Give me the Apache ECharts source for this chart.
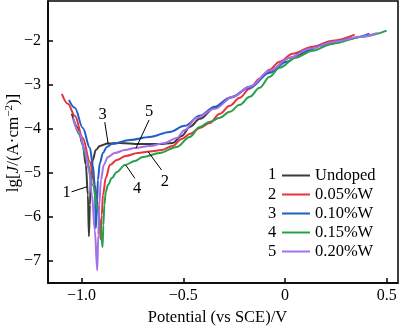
<!DOCTYPE html>
<html><head><meta charset="utf-8">
<script src="https://cdn.jsdelivr.net/npm/echarts@6/dist/echarts.min.js"></script>
<style>html,body{margin:0;padding:0;background:#fff}#c{width:400px;height:328px}</style>
</head><body><div id="c"></div>
<script>
// ---- data (E / V vs SCE, lg J) ----
const seriesNames = ['Undoped', '0.05%W', '0.10%W', '0.15%W', '0.20%W'];
const seriesNumbers = ['1', '2', '3', '4', '5'];
const seriesColors = ['#3a3a3a', '#e8323c', '#1c5fc8', '#27a04c', '#a56fe6'];

const undoped = [[-1.048,-3.661],[-1.018,-3.980],[-0.994,-4.367],[-0.979,-4.822],[-0.969,-5.505],[-0.964,-6.438],[-0.959,-5.732],[-0.954,-5.050],[-0.945,-4.708],[-0.930,-4.481],[-0.910,-4.389],[-0.871,-4.332],[-0.812,-4.321],[-0.714,-4.344],[-0.616,-4.344],[-0.552,-4.321],[-0.508,-4.162],[-0.468,-3.957],[-0.419,-3.775],[-0.346,-3.525],[-0.257,-3.274],[-0.174,-3.047],[-0.076,-2.706],[0.023,-2.387],[0.170,-2.114],[0.317,-1.932]];
const w005 = [[-1.097,-3.206],[-1.067,-3.434],[-1.033,-3.707],[-0.994,-4.208],[-0.959,-4.754],[-0.935,-5.277],[-0.920,-5.732],[-0.910,-6.188],[-0.907,-6.506],[-0.901,-5.960],[-0.895,-5.505],[-0.881,-5.118],[-0.861,-4.822],[-0.827,-4.708],[-0.783,-4.617],[-0.724,-4.549],[-0.665,-4.515],[-0.606,-4.481],[-0.552,-4.389],[-0.508,-4.230],[-0.468,-4.116],[-0.419,-3.980],[-0.370,-3.866],[-0.321,-3.661],[-0.272,-3.479],[-0.223,-3.297],[-0.174,-3.092],[-0.125,-2.865],[-0.076,-2.660],[-0.027,-2.478],[0.037,-2.296],[0.135,-2.137],[0.234,-2.000],[0.342,-1.863]];
const w010 = [[-1.062,-3.343],[-1.033,-3.525],[-0.994,-3.980],[-0.959,-4.435],[-0.945,-4.822],[-0.935,-5.277],[-0.930,-6.256],[-0.923,-5.619],[-0.920,-5.163],[-0.910,-4.776],[-0.895,-4.549],[-0.876,-4.412],[-0.851,-4.344],[-0.763,-4.253],[-0.665,-4.185],[-0.567,-4.071],[-0.493,-3.934],[-0.419,-3.707],[-0.346,-3.502],[-0.272,-3.297],[-0.174,-3.070],[-0.076,-2.728],[0.008,-2.478],[0.086,-2.250],[0.219,-2.057],[0.317,-1.954],[0.415,-1.841]];
const w015 = [[-1.038,-3.798],[-1.008,-4.139],[-0.974,-4.708],[-0.945,-5.277],[-0.920,-5.846],[-0.905,-6.301],[-0.897,-6.688],[-0.893,-6.188],[-0.888,-5.732],[-0.881,-5.436],[-0.871,-5.277],[-0.851,-5.118],[-0.827,-4.981],[-0.787,-4.822],[-0.738,-4.731],[-0.699,-4.640],[-0.616,-4.549],[-0.532,-4.412],[-0.468,-4.185],[-0.419,-3.957],[-0.370,-3.843],[-0.321,-3.752],[-0.272,-3.616],[-0.223,-3.457],[-0.174,-3.274],[-0.125,-3.070],[-0.076,-2.819],[-0.027,-2.614],[0.052,-2.387],[0.135,-2.228],[0.234,-2.068],[0.381,-1.909],[0.499,-1.772]];
const w020 = [[-1.043,-3.752],[-1.013,-4.071],[-0.984,-4.481],[-0.964,-4.936],[-0.949,-5.505],[-0.935,-6.301],[-0.923,-7.212],[-0.918,-6.415],[-0.913,-5.732],[-0.905,-5.163],[-0.891,-4.822],[-0.871,-4.640],[-0.837,-4.549],[-0.787,-4.481],[-0.738,-4.435],[-0.665,-4.389],[-0.591,-4.321],[-0.532,-4.208],[-0.493,-4.025],[-0.434,-3.752],[-0.346,-3.548],[-0.257,-3.274],[-0.174,-3.047],[-0.076,-2.683],[0.023,-2.387],[0.121,-2.182],[0.243,-2.023],[0.366,-1.909],[0.455,-1.825]];
const allSeries = [undoped, w005, w010, w015, w020];

const xTicks = [-1.0, -0.5, 0, 0.5];
const yTicks = [-7, -6, -5, -4, -3, -2];

// curve annotations: label, text position, leader start, leader end (data units)
const annotLabels = ['1', '2', '3', '4', '5'];
const annotText = [[-1.074,-5.459],[-0.591,-5.209],[-0.897,-3.684],[-0.727,-5.352],[-0.668,-3.609]];
const annotFrom = [[-1.049,-5.430],[-0.607,-4.936],[-0.886,-3.850],[-0.738,-5.125],[-0.668,-3.798]];
const annotTo   = [[-0.973,-5.316],[-0.673,-4.519],[-0.869,-4.351],[-0.783,-4.822],[-0.733,-4.442]];

const FONT = '"Liberation Serif","Times New Roman",serif';
const chart = echarts.init(document.getElementById('c'), null, {renderer: 'canvas'});
const fmtMinus = v => (v < 0 ? '\u2212' : '') + Math.abs(v);
const option = {
  animation: false,
  backgroundColor: '#fff',
  textStyle: {fontFamily: FONT, color: '#000'},
  grid: {left: 48, right: 2, top: 1, bottom: 45, show: true, borderColor: '#000', borderWidth: 1.5, outerBoundsMode: 'none'},
  xAxis: {
    type: 'value', min: -1.165, max: 0.555,
    axisLine: {onZero: false, lineStyle: {color: '#000', width: 1.5}},
    axisTick: {inside: true, length: 5, lineStyle: {color: '#000', width: 1.5}, customValues: xTicks},
    axisLabel: {customValues: xTicks, color: '#000', fontFamily: FONT, fontSize: 16, margin: 5,
      formatter: v => v === 0 ? '0' : (v < 0 ? '\u2212' : '') + Math.abs(v).toFixed(1)},
    splitLine: {show: false},
    name: 'Potential (vs SCE)/V', nameLocation: 'middle', nameGap: 26,
    nameTextStyle: {fontFamily: FONT, fontSize: 16.5, color: '#000', padding: [0, 11, 0, 0]}
  },
  yAxis: {
    type: 'value', min: -7.5, max: -1.1,
    axisLine: {onZero: false, lineStyle: {color: '#000', width: 1.5}},
    axisTick: {inside: true, length: 5, lineStyle: {color: '#000', width: 1.5}, customValues: yTicks},
    axisLabel: {customValues: yTicks, color: '#000', fontFamily: FONT, fontSize: 16, margin: 7, formatter: fmtMinus},
    splitLine: {show: false}
  },
  legend: {
    orient: 'vertical', left: 277, top: 162, itemWidth: 28, itemHeight: 2, itemGap: 2, icon: 'rect',
    textStyle: {fontFamily: FONT, fontSize: 16.5, color: '#000'},
    data: seriesNames
  },
  series: allSeries.map((d, i) => ({
    type: 'line', name: seriesNames[i], data: d, symbol: 'none',
    smooth: 0.35, smoothMonotone: 'x',
    lineStyle: {color: seriesColors[i], width: 2}, itemStyle: {color: seriesColors[i]},
    z: [2, 3, 4, 5, 6][i]
  }))
};
chart.setOption(option);

const g = [];
const legendRowY = [175, 194.3, 213.3, 232.7, 251.7];
seriesNumbers.forEach((n, i) => {
  g.push({type: 'text', x: 272, y: legendRowY[i], style: {text: n, font: '16.5px ' + FONT, fill: '#000', align: 'center', verticalAlign: 'middle'}});
});
// y-axis title (rotated, with italic J and superscript)
g.push({
  type: 'text', x: 14, y: 143, rotation: Math.PI / 2,
  style: {
    text: '{a|lg[}{i|J}{a|/(A\u00b7cm}{s|\u22122}{a|)]}',
    align: 'center', verticalAlign: 'middle',
    rich: {
      a: {font: '17px ' + FONT, fill: '#000', lineHeight: 20},
      i: {font: 'italic 17px ' + FONT, fill: '#000', lineHeight: 20},
      s: {font: '11px ' + FONT, fill: '#000', lineHeight: 20, padding: [0, 0, 9, 0]}
    }
  }
});
annotLabels.forEach((t, i) => {
  const p = chart.convertToPixel({gridIndex: 0}, annotText[i]);
  const a = chart.convertToPixel({gridIndex: 0}, annotFrom[i]);
  const b = chart.convertToPixel({gridIndex: 0}, annotTo[i]);
  g.push({type: 'line', shape: {x1: a[0], y1: a[1], x2: b[0], y2: b[1]}, style: {stroke: '#000', lineWidth: 1}, z: 10});
  g.push({type: 'text', x: p[0], y: p[1], style: {text: t, font: '16.5px ' + FONT, fill: '#000', align: 'center', verticalAlign: 'middle'}, z: 10});
});
chart.setOption({graphic: g});
</script>
</body></html>
